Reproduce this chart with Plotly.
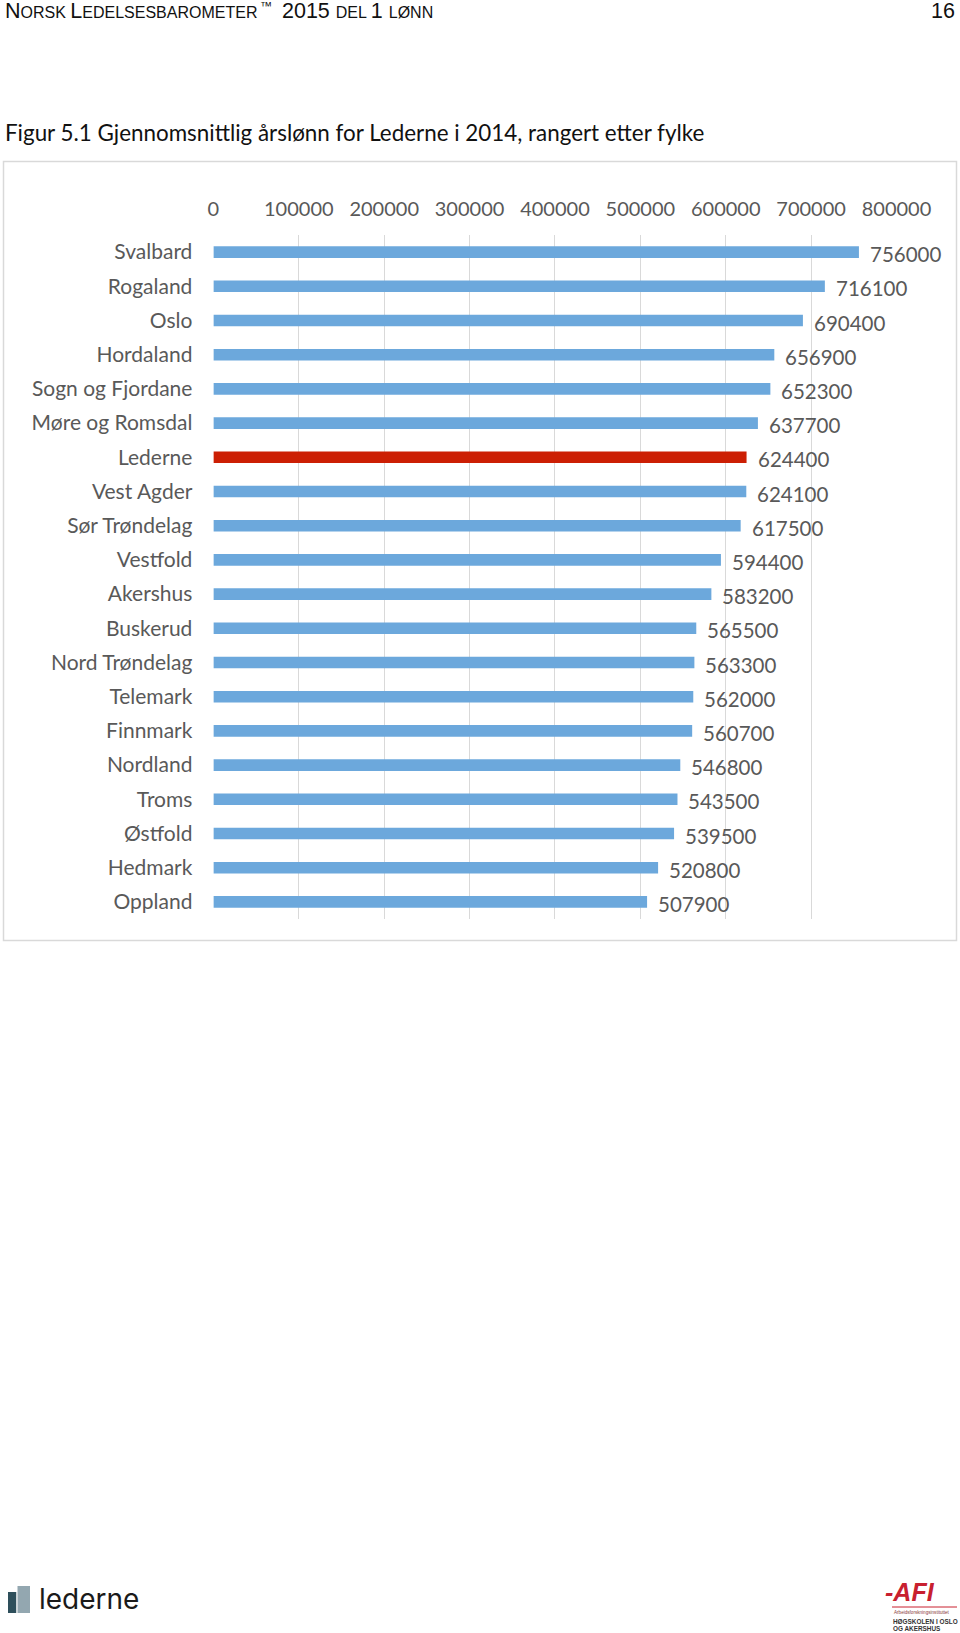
import plotly.graph_objects as go

categories = ["Svalbard", "Rogaland", "Oslo", "Hordaland", "Sogn og Fjordane",
              "Møre og Romsdal", "Lederne", "Vest Agder", "Sør Trøndelag", "Vestfold",
              "Akershus", "Buskerud", "Nord Trøndelag", "Telemark", "Finnmark",
              "Nordland", "Troms", "Østfold", "Hedmark", "Oppland"]
values = [756000, 716100, 690400, 656900, 652300, 637700, 624400, 624100, 617500,
          594400, 583200, 565500, 563300, 562000, 560700, 546800, 543500, 539500,
          520800, 507900]
highlight = "Lederne"
tick_vals = [0, 100000, 200000, 300000, 400000, 500000, 600000, 700000, 800000]

W, H = 960, 1633
BLUE = "#6CA8DC"
RED = "#CC1F04"
GRAY = "#595959"
FONT = "Lato, 'Open Sans', sans-serif"
HFONT = "'Liberation Sans', Arial, sans-serif"

colors = [RED if c == highlight else BLUE for c in categories]

fig = go.Figure()
fig.add_trace(go.Bar(
    x=values, y=categories, orientation="h",
    marker=dict(color=colors, line=dict(width=0)),
    hoverinfo="x+y", showlegend=False,
))

def px_x(p):
    return p / W

def px_y(p):
    return 1 - p / H

x0, x1 = 213.4, 896.5
y_top, y_bot = 235, 919

fig.update_layout(
    template="none",
    width=W, height=H, autosize=False,
    margin=dict(l=0, r=0, t=0, b=0, pad=0),
    paper_bgcolor="white", plot_bgcolor="white",
    bargap=0.66,
    font=dict(family=FONT, color=GRAY, size=20),
    xaxis=dict(
        domain=[px_x(x0), px_x(x1)], range=[0, 800000], side="top",
        tickvals=tick_vals, ticktext=[str(v) for v in tick_vals],
        showgrid=True, gridcolor="#D9D9D9", gridwidth=1,
        zeroline=False, showline=False, ticks="",
        tickfont=dict(family=FONT, color=GRAY, size=20),
        ticklabelstandoff=14, fixedrange=True, automargin=False,
    ),
    yaxis=dict(
        domain=[px_y(y_bot), px_y(y_top)],
        categoryorder="array", categoryarray=categories[::-1],
        showgrid=False, zeroline=False, showline=False, ticks="",
        tickfont=dict(family=FONT, color=GRAY, size=21),
        ticklabelstandoff=20, fixedrange=True, automargin=False,
    ),
)

# data labels
for c, v in zip(categories, values):
    fig.add_annotation(x=v, y=c, xref="x", yref="y", text=str(v), showarrow=False,
                       xanchor="left", yanchor="middle", xshift=9, yshift=-2,
                       font=dict(family=FONT, color=GRAY, size=20.5))

# chart frame
fig.add_shape(type="rect", xref="paper", yref="paper",
              x0=px_x(3.5), x1=px_x(956.5), y0=px_y(940.5), y1=px_y(161.5),
              line=dict(color="#D9D9D9", width=1.5), layer="below")

# header (small caps emulated)
BIG, SMALL = 21.5, 16
hdr1 = (f"<span style='font-size:{BIG}px'>N</span><span style='font-size:{SMALL}px'>ORSK </span>"
        f"<span style='font-size:{BIG}px'>L</span><span style='font-size:{SMALL}px'>EDELSESBAROMETER</span>")
hdr2 = (f"<span style='font-size:{BIG}px'>2015 </span>"
        f"<span style='font-size:{SMALL}px'>DEL </span><span style='font-size:{BIG}px'>1 </span>"
        f"<span style='font-size:{SMALL}px'>LØNN</span>")
fig.add_annotation(x=px_x(3), y=px_y(11), xref="paper", yref="paper", text=hdr1,
                   showarrow=False, xanchor="left", yanchor="middle",
                   font=dict(family=HFONT, color="#111111", size=BIG))
fig.add_annotation(x=px_x(258), y=px_y(6), xref="paper", yref="paper", text="™",
                   showarrow=False, xanchor="left", yanchor="middle",
                   font=dict(family=HFONT, color="#111111", size=12))
fig.add_annotation(x=px_x(280), y=px_y(11), xref="paper", yref="paper", text=hdr2,
                   showarrow=False, xanchor="left", yanchor="middle",
                   font=dict(family=HFONT, color="#111111", size=BIG))
fig.add_annotation(x=px_x(957), y=px_y(11), xref="paper", yref="paper", text="16",
                   showarrow=False, xanchor="right", yanchor="middle",
                   font=dict(family=HFONT, color="#111111", size=BIG))

# title
fig.add_annotation(x=px_x(3), y=px_y(132), xref="paper", yref="paper",
                   text="Figur 5.1 Gjennomsnittlig årslønn for Lederne i 2014, rangert etter fylke",
                   showarrow=False, xanchor="left", yanchor="middle",
                   font=dict(family=FONT, color="#111111", size=22.4))

# lederne logo (footer)
fig.add_shape(type="rect", xref="paper", yref="paper",
              x0=px_x(17), x1=px_x(30), y0=px_y(1613), y1=px_y(1586),
              fillcolor="#93A7B0", line=dict(width=0))
fig.add_shape(type="rect", xref="paper", yref="paper",
              x0=px_x(8), x1=px_x(16.5), y0=px_y(1613), y1=px_y(1592),
              fillcolor="#2E4F5B", line=dict(width=0))
fig.add_shape(type="rect", xref="paper", yref="paper",
              x0=px_x(16.5), x1=px_x(17.5), y0=px_y(1613), y1=px_y(1586),
              fillcolor="white", line=dict(width=0))
fig.add_annotation(x=px_x(37), y=px_y(1599), xref="paper", yref="paper", text="lederne",
                   showarrow=False, xanchor="left", yanchor="middle",
                   font=dict(family="Inter, sans-serif", color="#1A1A1A", size=28))

# AFI logo (footer)
fig.add_annotation(x=px_x(910), y=px_y(1592), xref="paper", yref="paper",
                   text="<b><i>-AFI</i></b>", showarrow=False, xanchor="center", yanchor="middle",
                   font=dict(family=HFONT, color="#C8202F", size=25))
fig.add_shape(type="line", xref="paper", yref="paper",
              x0=px_x(892), x1=px_x(957), y0=px_y(1607), y1=px_y(1607),
              line=dict(color="#C8202F", width=1))
fig.add_annotation(x=px_x(892), y=px_y(1612), xref="paper", yref="paper",
                   text="Arbeidsforskningsinstituttet", showarrow=False,
                   xanchor="left", yanchor="middle",
                   font=dict(family=HFONT, color="#8A3A3A", size=4.6))
fig.add_annotation(x=px_x(891), y=px_y(1621), xref="paper", yref="paper",
                   text="<b>HØGSKOLEN I OSLO</b>", showarrow=False,
                   xanchor="left", yanchor="middle",
                   font=dict(family=HFONT, color="#333333", size=6.4))
fig.add_annotation(x=px_x(891), y=px_y(1628), xref="paper", yref="paper",
                   text="<b>OG AKERSHUS</b>", showarrow=False,
                   xanchor="left", yanchor="middle",
                   font=dict(family=HFONT, color="#333333", size=6.4))

fig.write_html("out.html", config={"displayModeBar": False},
               post_script="document.body.style.margin='0';document.body.style.overflow='hidden';")
